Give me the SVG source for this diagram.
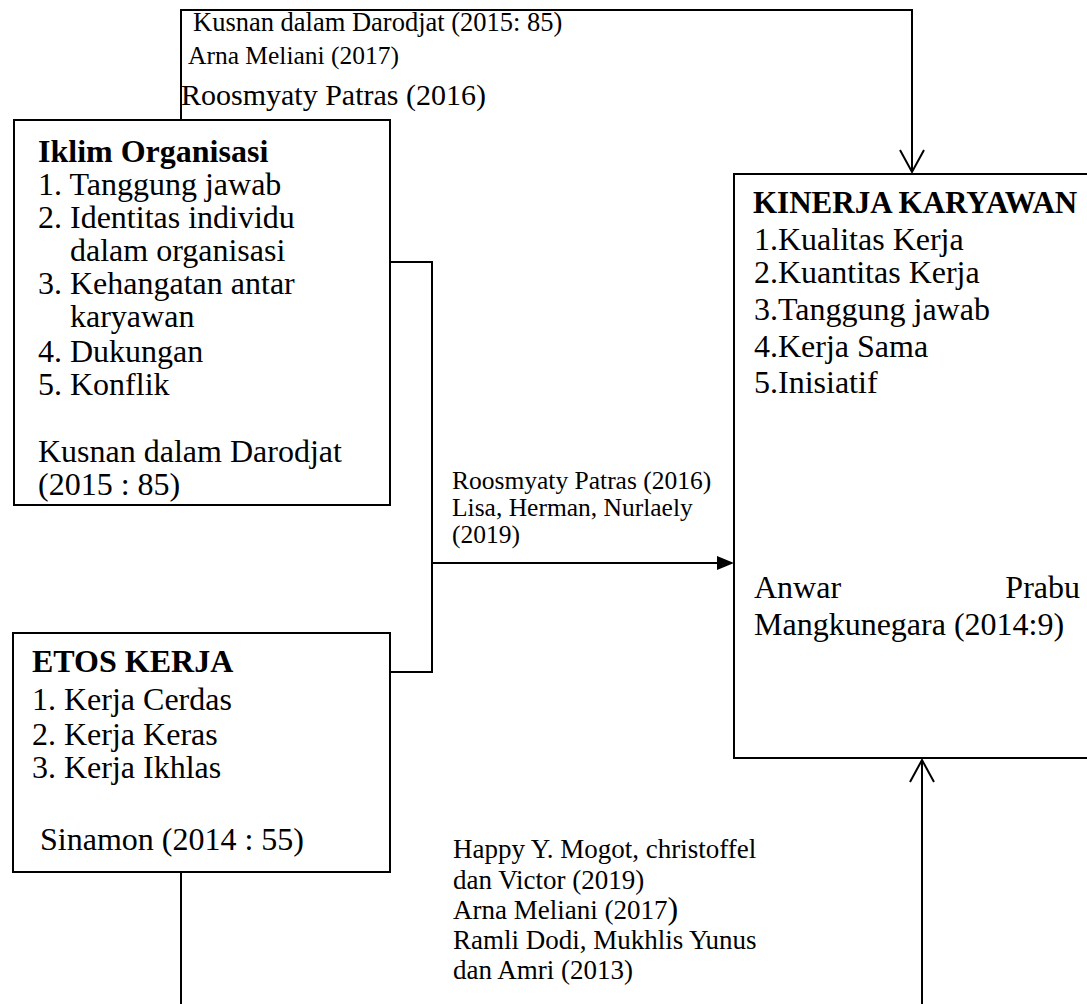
<svg xmlns="http://www.w3.org/2000/svg" width="1087" height="1004" viewBox="0 0 1087 1004">
<style>
.box{fill:#fff;stroke:#000;stroke-width:2}
.ln{fill:none;stroke:#000;stroke-width:2}
text{font-family:"Liberation Serif","Times New Roman",serif;fill:#000}
.m{font-size:32px}
.b{font-size:32px;font-weight:bold}
.s{font-size:26px}
</style>
<rect width="1087" height="1004" fill="#fff"/>
<g id="connectors">
<polyline class="ln" points="181,120 181,10 912,10 912,172"/>
<polyline class="ln" points="900,150 912,172 924,150"/>
<polyline class="ln" points="390,262 432,262 432,672 390,672"/>
<line class="ln" x1="432" y1="563" x2="720" y2="563" stroke-width="3"/>
<path d="M717,556 L734,563 L717,570 Z" fill="#000"/>
<line class="ln" x1="181" y1="872" x2="181" y2="1004"/>
<line class="ln" x1="922" y1="1004" x2="922" y2="760" stroke-width="3"/>
<polyline class="ln" points="910,782 922,760 934,782"/>
</g>
<g id="label-top">
<text class="s" x="193" y="31" style="font-size:26.5px">Kusnan dalam Darodjat (2015: 85)</text>
<text class="s" x="188" y="64" style="font-size:25.5px">Arna Meliani (2017)</text>
<text class="m" x="181" y="105" style="font-size:30px">Roosmyaty Patras (2016)</text>
</g>
<g id="iklim">
<rect class="box" x="14" y="120" width="376" height="385"/>
<text class="b" x="38" y="162">Iklim Organisasi</text>
<text class="m" x="38" y="195">1. Tanggung jawab</text>
<text class="m" x="38" y="228">2. Identitas individu</text>
<text class="m" x="70" y="261">dalam organisasi</text>
<text class="m" x="38" y="294">3. Kehangatan antar</text>
<text class="m" x="70" y="327">karyawan</text>
<text class="m" x="38" y="362">4. Dukungan</text>
<text class="m" x="38" y="395">5. Konflik</text>
<text class="m" x="38" y="462">Kusnan dalam Darodjat</text>
<text class="m" x="38" y="495">(2015 : 85)</text>
</g>
<g id="etos">
<rect class="box" x="13" y="633" width="377" height="239"/>
<text class="b" x="32" y="672">ETOS KERJA</text>
<text class="m" x="32" y="710">1. Kerja Cerdas</text>
<text class="m" x="32" y="745">2. Kerja Keras</text>
<text class="m" x="32" y="778">3. Kerja Ikhlas</text>
<text class="m" x="40" y="850">Sinamon (2014 : 55)</text>
</g>
<g id="kinerja">
<rect class="box" x="734" y="174" width="360" height="584"/>
<text class="b" x="753" y="213" style="font-size:31px">KINERJA KARYAWAN</text>
<text class="m" x="754" y="250">1.Kualitas Kerja</text>
<text class="m" x="754" y="283">2.Kuantitas Kerja</text>
<text class="m" x="754" y="320">3.Tanggung jawab</text>
<text class="m" x="754" y="357">4.Kerja Sama</text>
<text class="m" x="754" y="393">5.Inisiatif</text>
<text class="m" x="754" y="598">Anwar</text>
<text class="m" x="1080" y="598" text-anchor="end">Prabu</text>
<text class="m" x="754" y="635">Mangkunegara (2014:9)</text>
</g>
<g id="label-mid">
<text class="s" x="452" y="489" style="font-size:25.5px">Roosmyaty Patras (2016)</text>
<text class="s" x="452" y="516" style="font-size:25.5px">Lisa, Herman, Nurlaely</text>
<text class="s" x="452" y="543" style="font-size:25.5px">(2019)</text>
</g>
<g id="label-bottom">
<text class="s" x="453" y="858" style="font-size:27px">Happy Y. Mogot, christoffel</text>
<text class="s" x="453" y="889" style="font-size:27px">dan Victor (2019)</text>
<text class="s" x="453" y="919" style="font-size:27px">Arna Meliani (2017<tspan font-size="32">)</tspan></text>
<text class="s" x="453" y="949" style="font-size:27px">Ramli Dodi, Mukhlis Yunus</text>
<text class="s" x="453" y="979" style="font-size:27px">dan Amri (2013)</text>
</g>
</svg>
